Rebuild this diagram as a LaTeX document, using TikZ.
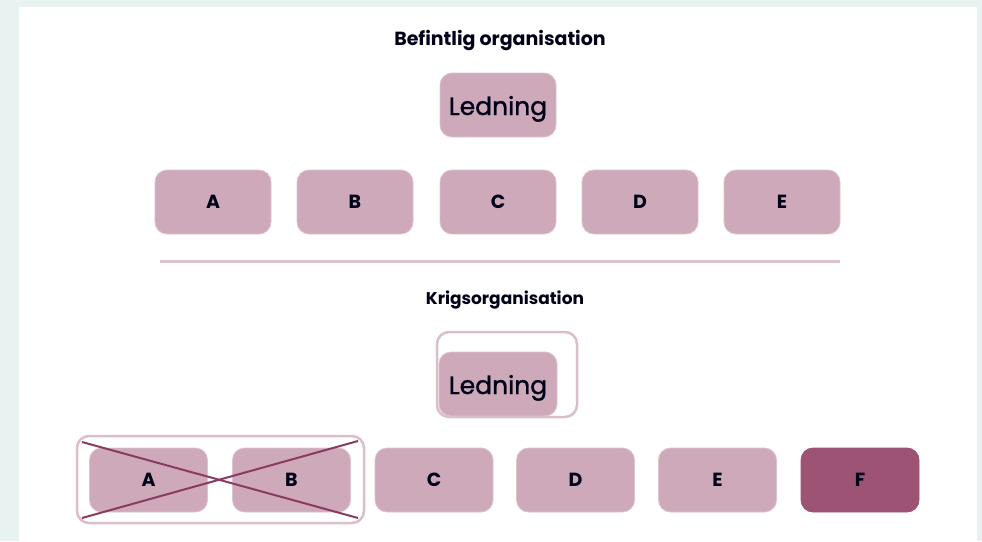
\documentclass[tikz,border=0pt]{standalone}
\usepackage{fontspec}
\setmainfont{Poppins}
\newfontfamily\leadfont[FakeBold=1.2]{Poppins}
\definecolor{unitfill}{HTML}{CDA9BA}
\definecolor{unitedge}{HTML}{DCC3CF}
\definecolor{newunit}{HTML}{9C5374}
\definecolor{crossline}{HTML}{8B3A62}
\definecolor{pagebg}{HTML}{E8F2F1}

\tikzset{
	unit/.style={rectangle, rounded corners=12pt, fill=unitfill, draw=unitedge,
		line width=0.8pt, minimum width=116pt, minimum height=64pt,
		font=\fontsize{19}{19}\selectfont\bfseries, text=black!90!blue},
	lead/.style={unit, font=\fontsize{25}{25}\leadfont, text height=20pt, text depth=0pt},
	frame/.style={rectangle, rounded corners=12pt, draw=unitedge!80!unitfill,
		line width=2.5pt},
	heading/.style={font=\fontsize{17}{17}\selectfont\bfseries, text=black!90!blue}
}

\begin{document}
\begin{tikzpicture}[x=1pt,y=-1pt]

	\useasboundingbox (0,0) rectangle (982,541);
	\fill[pagebg] (0,0) rectangle (982,541);
	\fill[white] (19,7) rectangle (977,541);

\begin{scope}
	\node[heading, font=\fontsize{19}{19}\selectfont\bfseries] (title1) at (500,41) {Befintlig organisation};
	\node[lead] (led1) at (498,105) {Ledning};
	\node[unit] (a1) at (213,202) {A};
	\node[unit] (b1) at (355,202) {B};
	\node[unit] (c1) at (498,202) {C};
	\node[unit] (d1) at (640,202) {D};
	\node[unit] (e1) at (782,202) {E};
\end{scope}

	\draw[unitedge, line width=3pt] (160,261) -- (840,261);

\begin{scope}
	\node[heading] (title2) at (505,300) {Krigsorganisation};
	\node[frame, minimum width=140pt, minimum height=85pt] (ledframe) at (507,374.5) {};
	\node[lead, minimum width=118pt] (led2) at (498,384) {Ledning};

	\node[frame, minimum width=287pt, minimum height=87pt] (abframe) at (220.5,479.5) {};
	\node[unit, minimum width=118pt] (a2) at (148.5,480) {A};
	\node[unit, minimum width=118pt] (b2) at (291.5,480) {B};
	\node[unit, minimum width=118pt] (c2) at (434,480) {C};
	\node[unit, minimum width=118pt] (d2) at (575.5,480) {D};
	\node[unit, minimum width=118pt] (e2) at (717.5,480) {E};
	\node[unit, minimum width=118pt, fill=newunit, draw=newunit] (f2) at (860,480) {F};

	\draw[crossline, line width=2pt] (82,442) -- (358,518);
	\draw[crossline, line width=2pt] (82,518) -- (358,441);
\end{scope}

\end{tikzpicture}
\end{document}
